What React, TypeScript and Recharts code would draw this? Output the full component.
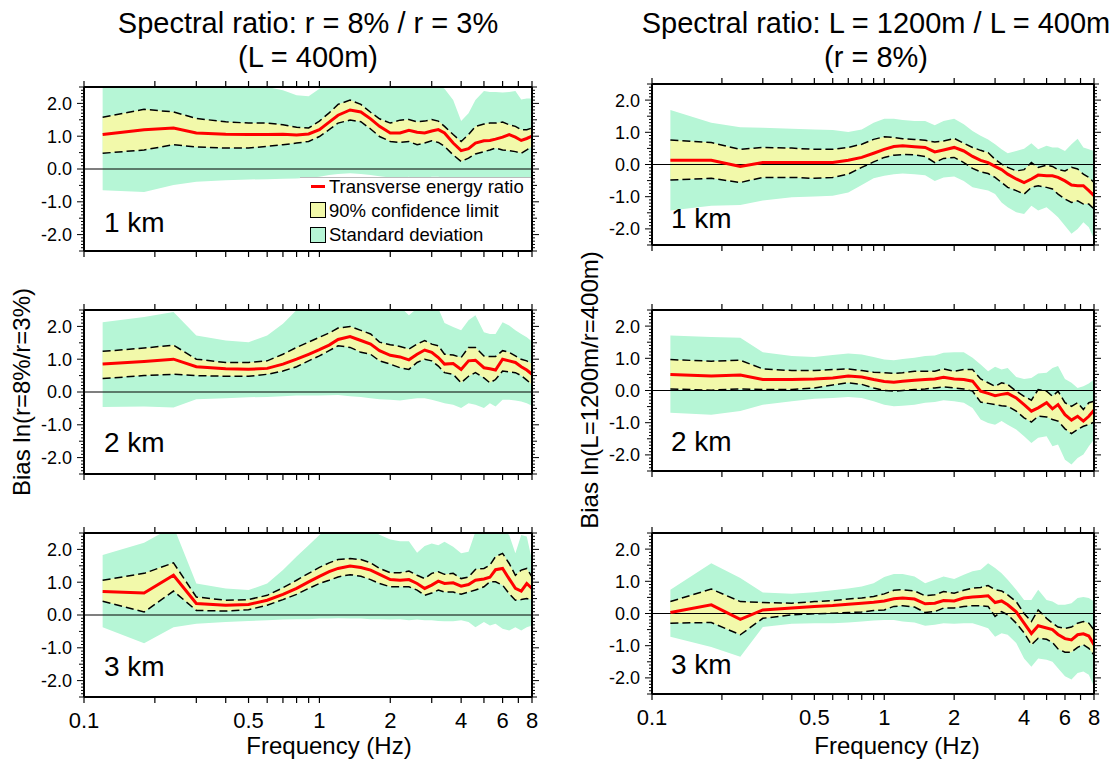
import React from 'react';
import { ComposedChart, Area, Line, XAxis, YAxis, ReferenceLine } from 'recharts';

const FONT = '"Liberation Sans", Arial, Helvetica, sans-serif';
const MINT = '#b6f6d6';
const YELLOW = '#f2f9aa';
const RED = '#ff0000';

const FREQ = [0.12, 0.18, 0.24, 0.3, 0.4, 0.5, 0.6, 0.7, 0.8, 0.9, 1.0, 1.1, 1.2, 1.35, 1.5, 1.65, 1.8, 2.0, 2.2, 2.4, 2.6, 2.8, 3.0, 3.2, 3.4, 3.7, 4.0, 4.3, 4.6, 5.0, 5.3, 5.6, 6.0, 6.4, 6.8, 7.2, 7.6, 8.0];
const X_TICKS = [0.1, 0.2, 0.3, 0.4, 0.5, 0.6, 0.7, 0.8, 0.9, 1, 2, 3, 4, 5, 6, 7, 8];
const X_LABELS = [0.1, 0.5, 1, 2, 4, 6, 8];
const Y_TICKS = Array.from({ length: 51 }, (_, i) => Math.round((-2.5 + i * 0.1) * 10) / 10);

// r = 8% / r = 3%, 1 km
const r1Mean = [1.05, 1.2, 1.25, 1.1, 1.06, 1.05, 1.05, 1.06, 1.04, 1.07, 1.2, 1.43, 1.64, 1.8, 1.74, 1.53, 1.3, 1.1, 1.1, 1.18, 1.12, 1.1, 1.16, 1.2, 1.1, 0.79, 0.56, 0.62, 0.79, 0.86, 0.87, 0.91, 0.97, 1.05, 0.97, 0.87, 0.93, 1.0];
const r1CiHi = [1.58, 1.82, 1.74, 1.54, 1.44, 1.4, 1.4, 1.35, 1.27, 1.25, 1.46, 1.71, 1.97, 2.1, 1.97, 1.73, 1.53, 1.4, 1.49, 1.51, 1.44, 1.46, 1.51, 1.46, 1.3, 1.05, 0.84, 1.05, 1.3, 1.37, 1.4, 1.4, 1.43, 1.35, 1.3, 1.2, 1.2, 1.25];
const r1CiLo = [0.48, 0.58, 0.74, 0.67, 0.64, 0.64, 0.69, 0.74, 0.79, 0.84, 0.99, 1.2, 1.4, 1.49, 1.44, 1.22, 0.99, 0.84, 0.81, 0.84, 0.74, 0.79, 0.86, 0.81, 0.69, 0.43, 0.23, 0.33, 0.46, 0.53, 0.58, 0.64, 0.58, 0.56, 0.53, 0.48, 0.58, 0.69];
const r1SdHi = [2.6, 2.7, 2.7, 2.7, 2.6, 2.55, 2.5, 2.4, 2.25, 2.22, 2.45, 2.7, 2.9, 3.0, 2.9, 2.8, 2.7, 2.6, 2.6, 2.65, 2.6, 2.6, 2.6, 2.55, 2.45, 2.1, 1.46, 1.7, 2.1, 2.38, 2.35, 2.35, 2.33, 2.35, 2.38, 2.12, 2.15, 2.15];
const r1SdLo = [-0.65, -0.7, -0.49, -0.39, -0.34, -0.32, -0.31, -0.3, -0.29, -0.27, -0.24, -0.18, -0.15, -0.13, -0.15, -0.18, -0.22, -0.26, -0.29, -0.24, -0.31, -0.29, -0.24, -0.24, -0.29, -0.39, -0.52, -0.49, -0.44, -0.39, -0.44, -0.34, -0.39, -0.34, -0.29, -0.34, -0.26, -0.24];

// r = 8% / r = 3%, 2 km
const r2Mean = [0.85, 0.93, 1.0, 0.77, 0.71, 0.69, 0.72, 0.85, 1.0, 1.15, 1.29, 1.43, 1.6, 1.69, 1.57, 1.46, 1.26, 1.12, 1.07, 0.98, 1.15, 1.28, 1.21, 1.05, 0.85, 0.87, 0.69, 0.95, 0.97, 0.74, 0.71, 0.67, 1.0, 0.95, 0.9, 0.77, 0.67, 0.54];
const r2CiHi = [1.24, 1.34, 1.43, 1.0, 0.9, 0.9, 0.95, 1.15, 1.36, 1.52, 1.67, 1.8, 1.95, 2.0, 1.88, 1.77, 1.52, 1.44, 1.39, 1.31, 1.46, 1.57, 1.46, 1.41, 1.15, 1.13, 1.05, 1.36, 1.36, 1.1, 1.08, 1.08, 1.26, 1.21, 1.1, 1.0, 0.95, 0.85];
const r2CiLo = [0.41, 0.5, 0.54, 0.5, 0.48, 0.48, 0.54, 0.64, 0.77, 0.95, 1.1, 1.26, 1.41, 1.36, 1.21, 1.15, 0.95, 0.85, 0.74, 0.69, 0.9, 1.0, 0.95, 0.79, 0.59, 0.54, 0.28, 0.48, 0.59, 0.43, 0.28, 0.38, 0.64, 0.61, 0.59, 0.5, 0.36, 0.23];
const r2SdHi = [2.13, 2.29, 2.44, 1.72, 1.57, 1.52, 1.72, 2.08, 2.5, 2.7, 2.9, 3.0, 3.0, 3.0, 2.9, 2.8, 2.7, 2.6, 2.6, 2.34, 2.55, 2.6, 2.6, 2.55, 2.1, 1.98, 1.88, 2.19, 2.34, 1.82, 1.77, 1.77, 2.13, 2.03, 1.88, 1.77, 1.67, 1.54];
const r2SdLo = [-0.46, -0.44, -0.47, -0.22, -0.19, -0.16, -0.15, -0.13, -0.11, -0.11, -0.11, -0.1, -0.09, -0.13, -0.15, -0.19, -0.22, -0.24, -0.26, -0.22, -0.19, -0.19, -0.24, -0.29, -0.34, -0.39, -0.49, -0.34, -0.39, -0.49, -0.34, -0.44, -0.24, -0.24, -0.26, -0.29, -0.34, -0.42];

// r = 8% / r = 3%, 3 km
const r3Mean = [0.72, 0.67, 1.21, 0.35, 0.3, 0.32, 0.45, 0.63, 0.81, 1.01, 1.18, 1.32, 1.42, 1.49, 1.45, 1.37, 1.24, 1.08, 1.06, 1.08, 0.96, 0.81, 0.91, 1.03, 0.96, 0.98, 0.88, 0.93, 1.06, 1.1, 1.15, 1.38, 1.42, 1.1, 0.81, 0.73, 0.96, 0.81];
const r3CiHi = [1.06, 1.27, 1.59, 0.55, 0.45, 0.47, 0.6, 0.83, 1.06, 1.27, 1.45, 1.59, 1.69, 1.72, 1.69, 1.59, 1.42, 1.29, 1.29, 1.34, 1.21, 1.11, 1.27, 1.32, 1.24, 1.27, 1.11, 1.16, 1.39, 1.42, 1.52, 1.78, 1.88, 1.57, 1.21, 1.37, 1.42, 1.16];
const r3CiLo = [0.42, 0.09, 0.73, 0.14, 0.12, 0.16, 0.3, 0.47, 0.63, 0.81, 0.96, 1.06, 1.16, 1.23, 1.18, 1.08, 0.96, 0.86, 0.86, 0.86, 0.76, 0.6, 0.67, 0.76, 0.7, 0.7, 0.63, 0.7, 0.76, 0.86, 1.01, 1.01, 0.91, 0.65, 0.45, 0.47, 0.5, 0.47];
const r3SdHi = [1.83, 2.2, 2.7, 0.96, 0.81, 0.76, 0.96, 1.37, 1.78, 2.13, 2.44, 2.7, 2.9, 2.9, 2.8, 2.6, 2.45, 2.3, 2.25, 2.25, 1.9, 2.1, 2.18, 2.13, 2.23, 2.08, 1.88, 1.93, 2.54, 2.6, 2.6, 2.6, 2.6, 2.44, 1.88, 2.44, 2.39, 1.67];
const r3SdLo = [-0.37, -0.86, -0.37, -0.27, -0.21, -0.18, -0.16, -0.14, -0.13, -0.13, -0.11, -0.11, -0.1, -0.11, -0.11, -0.13, -0.13, -0.14, -0.13, -0.16, -0.14, -0.16, -0.16, -0.18, -0.19, -0.19, -0.16, -0.21, -0.37, -0.21, -0.32, -0.27, -0.42, -0.47, -0.37, -0.47, -0.37, -0.32];

// L = 1200m / L = 400m, 1 km
const l1Mean = [0.13, 0.13, -0.06, 0.06, 0.06, 0.06, 0.06, 0.13, 0.22, 0.35, 0.47, 0.56, 0.58, 0.55, 0.53, 0.39, 0.45, 0.53, 0.42, 0.25, 0.13, 0.06, -0.06, -0.16, -0.3, -0.45, -0.56, -0.45, -0.33, -0.35, -0.35, -0.4, -0.51, -0.64, -0.66, -0.66, -0.81, -0.97];
const l1CiHi = [0.76, 0.68, 0.47, 0.53, 0.51, 0.47, 0.47, 0.53, 0.63, 0.78, 0.86, 0.84, 0.8, 0.78, 0.75, 0.7, 0.73, 0.81, 0.66, 0.53, 0.44, 0.37, 0.16, 0.01, -0.09, -0.2, -0.16, 0.06, -0.09, -0.02, -0.06, -0.16, -0.2, -0.09, -0.14, -0.3, -0.4, -0.56];
const l1CiLo = [-0.48, -0.43, -0.56, -0.4, -0.4, -0.43, -0.4, -0.3, -0.09, 0.08, 0.22, 0.29, 0.31, 0.3, 0.25, 0.06, 0.19, 0.22, 0.06, -0.12, -0.23, -0.28, -0.4, -0.56, -0.71, -0.81, -0.92, -0.71, -0.66, -0.71, -0.76, -0.92, -1.07, -1.18, -1.13, -1.23, -1.23, -1.38];
const l1SdHi = [1.69, 1.3, 1.16, 1.14, 1.11, 1.09, 1.07, 1.01, 1.09, 1.3, 1.42, 1.42, 1.38, 1.35, 1.35, 1.22, 1.35, 1.42, 1.25, 1.04, 0.89, 0.78, 0.63, 0.47, 0.35, 0.42, 0.49, 0.66, 0.47, 0.58, 0.53, 0.53, 0.42, 0.63, 0.8, 0.53, 0.47, 0.42];
const l1SdLo = [-1.43, -1.28, -1.26, -1.12, -1.02, -0.99, -0.97, -0.87, -0.64, -0.43, -0.35, -0.3, -0.28, -0.3, -0.33, -0.51, -0.4, -0.37, -0.51, -0.71, -0.76, -0.81, -0.92, -1.18, -1.33, -1.48, -1.54, -1.28, -1.43, -1.33, -1.48, -1.64, -1.9, -2.15, -2.0, -1.79, -1.95, -2.31];

// L = 1200m / L = 400m, 2 km
const l2Mean = [0.5, 0.45, 0.48, 0.34, 0.34, 0.36, 0.39, 0.45, 0.42, 0.34, 0.28, 0.26, 0.29, 0.32, 0.34, 0.36, 0.41, 0.36, 0.34, 0.29, -0.02, -0.09, -0.16, -0.12, -0.09, -0.23, -0.44, -0.64, -0.54, -0.38, -0.57, -0.44, -0.75, -0.92, -0.8, -0.95, -0.8, -0.61];
const l2CiHi = [0.96, 0.91, 0.94, 0.67, 0.62, 0.62, 0.65, 0.67, 0.62, 0.57, 0.55, 0.53, 0.55, 0.6, 0.6, 0.6, 0.67, 0.6, 0.65, 0.65, 0.36, 0.24, 0.13, 0.24, 0.19, -0.02, -0.18, -0.3, 0.03, -0.02, -0.18, -0.02, -0.38, -0.49, -0.38, -0.59, -0.38, -0.33];
const l2CiLo = [0.05, 0.01, 0.05, 0.03, 0.03, 0.08, 0.17, 0.24, 0.19, 0.08, 0.0, -0.02, 0.0, 0.03, 0.05, 0.08, 0.11, 0.08, 0.05, -0.02, -0.36, -0.4, -0.44, -0.47, -0.49, -0.64, -0.85, -0.98, -0.8, -0.82, -0.9, -0.95, -1.19, -1.34, -1.21, -1.11, -1.06, -0.98];
const l2SdHi = [1.71, 1.66, 1.64, 1.19, 1.07, 1.04, 1.1, 1.15, 1.12, 1.04, 0.96, 0.94, 0.98, 1.02, 1.07, 1.09, 1.17, 1.19, 1.19, 1.02, 0.81, 0.6, 0.74, 0.65, 0.7, 0.42, 0.36, 0.39, 0.53, 0.55, 0.7, 0.76, 0.36, 0.24, 0.08, 0.13, 0.22, 0.34];
const l2SdLo = [-0.69, -0.75, -0.64, -0.44, -0.33, -0.26, -0.23, -0.2, -0.23, -0.33, -0.44, -0.49, -0.47, -0.44, -0.38, -0.36, -0.3, -0.33, -0.38, -0.54, -0.9, -1.01, -1.06, -0.95, -1.06, -1.21, -1.42, -1.63, -1.47, -1.42, -1.73, -1.68, -2.15, -2.3, -2.1, -1.99, -1.73, -1.52];

// L = 1200m / L = 400m, 3 km
const l3Mean = [0.03, 0.27, -0.18, 0.11, 0.17, 0.22, 0.25, 0.29, 0.32, 0.35, 0.39, 0.46, 0.48, 0.45, 0.3, 0.32, 0.4, 0.39, 0.48, 0.51, 0.53, 0.55, 0.34, 0.39, 0.27, 0.05, -0.3, -0.62, -0.38, -0.45, -0.5, -0.65, -0.78, -0.82, -0.66, -0.63, -0.7, -0.97];
const l3CiHi = [0.37, 0.76, 0.37, 0.34, 0.32, 0.37, 0.4, 0.45, 0.48, 0.53, 0.61, 0.72, 0.74, 0.7, 0.55, 0.58, 0.68, 0.63, 0.72, 0.79, 0.81, 0.87, 0.74, 0.7, 0.58, 0.37, 0.0, -0.25, 0.11, -0.15, -0.3, -0.42, -0.46, -0.42, -0.3, -0.25, -0.3, -0.51];
const l3CiLo = [-0.3, -0.28, -0.66, -0.15, -0.04, -0.01, 0.01, 0.03, 0.05, 0.09, 0.11, 0.22, 0.24, 0.2, 0.03, 0.06, 0.17, 0.17, 0.22, 0.24, 0.24, 0.22, -0.09, 0.06, -0.04, -0.3, -0.6, -0.97, -0.77, -0.8, -0.9, -1.1, -1.2, -1.2, -1.05, -0.97, -1.08, -1.29];
const l3SdHi = [0.74, 1.56, 1.1, 0.65, 0.61, 0.66, 0.72, 0.78, 0.84, 0.94, 1.13, 1.23, 1.23, 1.15, 0.94, 1.05, 1.15, 1.07, 1.2, 1.31, 1.36, 1.56, 1.41, 1.25, 1.05, 0.74, 0.42, 0.42, 0.74, 0.42, 0.37, 0.27, 0.27, 0.32, 0.48, 0.51, 0.48, 0.37];
const l3SdLo = [-0.72, -1.04, -1.34, -0.42, -0.32, -0.3, -0.3, -0.28, -0.25, -0.22, -0.2, -0.2, -0.25, -0.28, -0.38, -0.35, -0.3, -0.32, -0.3, -0.3, -0.38, -0.46, -0.72, -0.61, -0.66, -0.92, -1.4, -1.65, -1.4, -1.44, -1.5, -1.7, -1.95, -2.05, -1.85, -1.8, -1.9, -2.27];

type Series = { mean: number[]; ciLo: number[]; ciHi: number[]; sdLo: number[]; sdHi: number[] };

const makeRows = (s: Series) =>
  FREQ.map((f, i) => ({
    f,
    mean: s.mean[i],
    ciLo: s.ciLo[i],
    ciHi: s.ciHi[i],
    ci: [s.ciLo[i], s.ciHi[i]],
    sd: [s.sdLo[i], s.sdHi[i]],
  }));

const LEFT_W = 60;
const RIGHT_W = 10;
const TOP_H = 10;
const BOTTOM_H = 44;

const AXIS_LINE = { stroke: '#000', strokeWidth: 2 };
const DASH = '8 4';

const XTick = (props: any) => {
  const { x, y, payload, side, labels } = props;
  const dir = side === 'top' ? -1 : 1;
  const v = payload.value;
  const show = labels && X_LABELS.includes(v);
  return (
    <g>
      <line x1={x} y1={y} x2={x} y2={y + dir * 6} stroke="#000" strokeWidth={1.2} />
      {show && (
        <text x={x} y={y + 31} textAnchor="middle" fontSize={22} fontFamily={FONT} fill="#000">
          {String(v)}
        </text>
      )}
    </g>
  );
};

const YTick = (props: any) => {
  const { x, y, payload, side } = props;
  const r = Math.round(payload.value * 10);
  const len = r % 10 === 0 ? 7 : r % 5 === 0 ? 5 : 3;
  const dir = side === 'left' ? -1 : 1;
  return (
    <g>
      <line x1={x} y1={y} x2={x + dir * len} y2={y} stroke="#000" strokeWidth={1} />
      {side === 'left' && r % 10 === 0 && Math.abs(r) <= 20 && (
        <text x={x - 12} y={y} dy="0.36em" textAnchor="end" fontSize={18} fontFamily={FONT} fill="#000">
          {(r / 10).toFixed(1)}
        </text>
      )}
    </g>
  );
};

type PanelProps = { s: Series; x: number; y: number; w: number; h: number; labels: boolean };

const Panel = ({ s, x, y, w, h, labels }: PanelProps) => {
  const rows = makeRows(s);
  return (
    <div style={{ position: 'absolute', left: x - LEFT_W, top: y - TOP_H }}>
      <ComposedChart
        width={w + LEFT_W + RIGHT_W}
        height={h + TOP_H + BOTTOM_H}
        data={rows}
        margin={{ top: 0, right: 0, bottom: 0, left: 0 }}
      >
        <Area dataKey="sd" type="linear" fill={MINT} fillOpacity={1} stroke="none" isAnimationActive={false} />
        <Area dataKey="ci" type="linear" fill={YELLOW} fillOpacity={1} stroke="none" isAnimationActive={false} />
        <ReferenceLine y={0} stroke="#000" strokeWidth={1.2} />
        <Line dataKey="ciHi" type="linear" stroke="#000" strokeWidth={1.5} strokeDasharray={DASH} dot={false} isAnimationActive={false} />
        <Line dataKey="ciLo" type="linear" stroke="#000" strokeWidth={1.5} strokeDasharray={DASH} dot={false} isAnimationActive={false} />
        <Line dataKey="mean" type="linear" stroke={RED} strokeWidth={3} dot={false} isAnimationActive={false} />
        <XAxis
          dataKey="f"
          type="number"
          scale="log"
          domain={[0.1, 8]}
          allowDataOverflow
          ticks={X_TICKS}
          interval={0}
          tickSize={0}
          tickMargin={0}
          tickLine={false}
          axisLine={AXIS_LINE}
          height={BOTTOM_H}
          tick={(t: any) => <XTick {...t} side="bottom" labels={labels} />}
        />
        <XAxis
          xAxisId="top"
          orientation="top"
          dataKey="f"
          type="number"
          scale="log"
          domain={[0.1, 8]}
          allowDataOverflow
          ticks={X_TICKS}
          interval={0}
          tickSize={0}
          tickMargin={0}
          tickLine={false}
          axisLine={AXIS_LINE}
          height={TOP_H}
          tick={(t: any) => <XTick {...t} side="top" labels={false} />}
        />
        <YAxis
          type="number"
          domain={[-2.5, 2.5]}
          allowDataOverflow
          ticks={Y_TICKS}
          interval={0}
          tickSize={0}
          tickMargin={0}
          tickLine={false}
          axisLine={AXIS_LINE}
          width={LEFT_W}
          tick={(t: any) => <YTick {...t} side="left" />}
        />
        <YAxis
          yAxisId="right"
          orientation="right"
          type="number"
          domain={[-2.5, 2.5]}
          allowDataOverflow
          ticks={Y_TICKS}
          interval={0}
          tickSize={0}
          tickMargin={0}
          tickLine={false}
          axisLine={AXIS_LINE}
          width={RIGHT_W}
          tick={(t: any) => <YTick {...t} side="right" />}
        />
      </ComposedChart>
    </div>
  );
};

type TxtProps = { x: number; y: number; size: number; rotate?: number; anchor?: 'start' | 'middle'; children: React.ReactNode };

const Txt = ({ x, y, size, rotate = 0, anchor = 'middle', children }: TxtProps) => (
  <div
    style={{
      position: 'absolute',
      left: x,
      top: y,
      fontSize: size,
      lineHeight: 1,
      whiteSpace: 'nowrap',
      fontFamily: FONT,
      color: '#000',
      transform: `translate(${anchor === 'middle' ? '-50%' : '0'}, -50%) rotate(${rotate}deg)`,
      transformOrigin: anchor === 'middle' ? 'center' : 'left center',
    }}
  >
    {children}
  </div>
);

const LegendBox = () => (
  <div
    style={{
      position: 'absolute',
      left: 300,
      top: 177,
      width: 231,
      height: 73,
      background: '#fff',
      borderTop: '1px solid #bbb',
      boxSizing: 'border-box',
      fontFamily: FONT,
    }}
  >
    <div style={{ position: 'absolute', left: 11, top: 7, width: 14, height: 3, background: RED }} />
    <div style={{ position: 'absolute', left: 10, top: 24, width: 14, height: 14, background: YELLOW, border: '1.5px solid #000' }} />
    <div style={{ position: 'absolute', left: 10, top: 49, width: 14, height: 14, background: MINT, border: '1.5px solid #000' }} />
    <Txt x={29} y={9} size={18.5} anchor="start">Transverse energy ratio</Txt>
    <Txt x={29} y={33} size={18.5} anchor="start">90% confidence limit</Txt>
    <Txt x={29} y={57} size={18.5} anchor="start">Standard deviation</Txt>
  </div>
);

const L_X = 84;
const L_W = 448;
const L_H = 164;
const R_X = 652;
const R_W = 442;
const R_H = 161;

export default function App() {
  return (
    <div style={{ position: 'absolute', left: 0, top: 0, width: 1112, height: 763, background: '#fff', overflow: 'hidden' }}>
      <Panel s={{ mean: r1Mean, ciLo: r1CiLo, ciHi: r1CiHi, sdLo: r1SdLo, sdHi: r1SdHi }} x={L_X} y={87} w={L_W} h={L_H} labels={false} />
      <Panel s={{ mean: r2Mean, ciLo: r2CiLo, ciHi: r2CiHi, sdLo: r2SdLo, sdHi: r2SdHi }} x={L_X} y={310} w={L_W} h={L_H} labels={false} />
      <Panel s={{ mean: r3Mean, ciLo: r3CiLo, ciHi: r3CiHi, sdLo: r3SdLo, sdHi: r3SdHi }} x={L_X} y={533} w={L_W} h={L_H} labels />
      <Panel s={{ mean: l1Mean, ciLo: l1CiLo, ciHi: l1CiHi, sdLo: l1SdLo, sdHi: l1SdHi }} x={R_X} y={84} w={R_W} h={R_H} labels={false} />
      <Panel s={{ mean: l2Mean, ciLo: l2CiLo, ciHi: l2CiHi, sdLo: l2SdLo, sdHi: l2SdHi }} x={R_X} y={310} w={R_W} h={R_H} labels={false} />
      <Panel s={{ mean: l3Mean, ciLo: l3CiLo, ciHi: l3CiHi, sdLo: l3SdLo, sdHi: l3SdHi }} x={R_X} y={533} w={R_W} h={R_H} labels />

      <LegendBox />

      <Txt x={104} y={223} size={28} anchor="start">1 km</Txt>
      <Txt x={104} y={443} size={28} anchor="start">2 km</Txt>
      <Txt x={104} y={667} size={28} anchor="start">3 km</Txt>
      <Txt x={671} y={219} size={28} anchor="start">1 km</Txt>
      <Txt x={671} y={442} size={28} anchor="start">2 km</Txt>
      <Txt x={671} y={665} size={28} anchor="start">3 km</Txt>

      <Txt x={308} y={23} size={29}>Spectral ratio: r = 8% / r = 3%</Txt>
      <Txt x={308} y={57} size={29}>(L = 400m)</Txt>
      <Txt x={876} y={23} size={29}>Spectral ratio: L = 1200m / L = 400m</Txt>
      <Txt x={876} y={57} size={29}>(r = 8%)</Txt>

      <Txt x={329} y={746} size={24}>Frequency (Hz)</Txt>
      <Txt x={897} y={746} size={24}>Frequency (Hz)</Txt>

      <Txt x={22} y={392} size={24} rotate={-90}>Bias ln(r=8%/r=3%)</Txt>
      <Txt x={590} y={390} size={24} rotate={-90}>Bias ln(L=1200m/r=400m)</Txt>
    </div>
  );
}
